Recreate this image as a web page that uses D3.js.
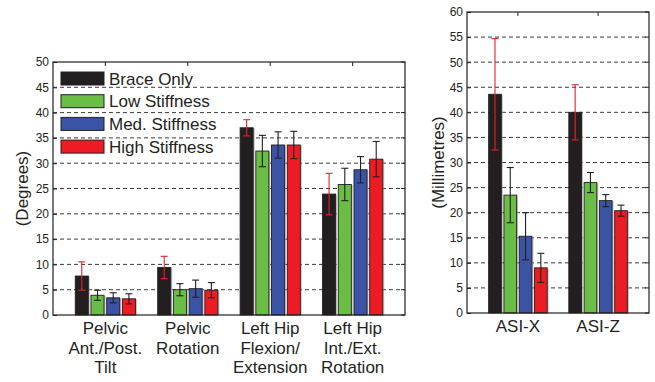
<!DOCTYPE html>
<html>
<head>
<meta charset="utf-8">
<script src="https://cdn.jsdelivr.net/npm/d3@7"></script>
<style>
  body { margin: 0; background: #fff; }
  svg { display: block; font-family: "Liberation Sans", Arial, sans-serif; }
</style>
</head>
<body>
<div id="chart"></div>
<script>
// series names + colours
const seriesNames = ['Brace Only', 'Low Stiffness', 'Med. Stiffness', 'High Stiffness'];
const seriesColours = ['#231f20', '#6abd45', '#3a53a4', '#ed1c24'];

// joint angles (degrees)
const angleCats = [['Pelvic', 'Ant./Post.', 'Tilt'], ['Pelvic', 'Rotation'], ['Left Hip', 'Flexion/', 'Extension'], ['Left Hip', 'Int./Ext.', 'Rotation']];
const braceAngle = [7.7, 9.4, 37.0, 23.9];
const lowAngle = [3.9, 5.0, 32.4, 25.8];
const medAngle = [3.4, 5.2, 33.6, 28.7];
const highAngle = [3.2, 4.9, 33.6, 30.8];
const braceAngleErr = [2.8, 2.2, 1.6, 4.1];
const lowAngleErr = [1.0, 1.2, 3.1, 3.2];
const medAngleErr = [1.0, 1.7, 2.6, 2.6];
const highAngleErr = [1.0, 1.5, 2.7, 3.5];
const angleTicks = [0, 5, 10, 15, 20, 25, 30, 35, 40, 45, 50];

// ASI displacement (mm)
const asiCats = [['ASI-X'], ['ASI-Z']];
const braceAsi = [43.6, 40.0];
const lowAsi = [23.5, 26.0];
const medAsi = [15.3, 22.4];
const highAsi = [9.0, 20.4];
const braceAsiErr = [11.1, 5.5];
const lowAsiErr = [5.5, 2.0];
const medAsiErr = [4.7, 1.2];
const highAsiErr = [2.9, 1.1];
const asiTicks = [0, 5, 10, 15, 20, 25, 30, 35, 40, 45, 50, 55, 60];

const ink = '#231f20';

const svg = d3.select('#chart')
              .append('svg')
                .attr('width', 655)
                .attr('height', 382);

function drawPanel(opts) {
    const { x0, y0, w, h, cats, means, errs, ticks, yLabel, labelX } = opts;
    const g = svg.append('g').attr('transform', `translate(${x0}, ${y0})`);

    const yScale = d3.scaleLinear()
                     .domain([0, d3.max(ticks)])
                     .range([h, 0]);
    const xScale = d3.scaleBand()
                     .domain(d3.range(cats.length))
                     .range([0, w])
                     .padding(0.27);
    const xInner = d3.scaleBand()
                     .domain(d3.range(seriesNames.length))
                     .range([0, xScale.bandwidth()])
                     .paddingInner(0.17);

    // dashed grid
    g.selectAll('.grid')
     .data(ticks.filter(t => t > 0 && t < d3.max(ticks)))
     .enter()
       .append('line')
         .attr('x1', 0)
         .attr('x2', w)
         .attr('y1', d => yScale(d))
         .attr('y2', d => yScale(d))
         .attr('stroke', '#3a3a3a')
         .attr('stroke-width', 1)
         .attr('stroke-dasharray', '4,3');

    // left axis with inside ticks, plus right side ticks
    const yAxis = g.append('g')
                   .call(d3.axisLeft(yScale).tickValues(ticks).tickSize(-4).tickPadding(4));
    yAxis.select('.domain').remove();
    yAxis.selectAll('line').attr('stroke', ink);
    yAxis.selectAll('text')
         .attr('font-size', 12)
         .attr('fill', ink)
         .attr('font-family', '"Liberation Sans", Arial, sans-serif');

    g.selectAll('.rtick')
     .data(ticks)
     .enter()
       .append('line')
         .attr('x1', w - 4)
         .attr('x2', w)
         .attr('y1', d => yScale(d))
         .attr('y2', d => yScale(d))
         .attr('stroke', ink);

    // top ticks at category centres
    g.selectAll('.ttick')
     .data(cats)
     .enter()
       .append('line')
         .attr('x1', (d, i) => xScale(i) + xScale.bandwidth() / 2)
         .attr('x2', (d, i) => xScale(i) + xScale.bandwidth() / 2)
         .attr('y1', 0)
         .attr('y2', 4)
         .attr('stroke', ink);

    // bars
    const bars = [];
    cats.forEach((c, i) => {
        seriesNames.forEach((s, j) => {
            bars.push({ cat: i, s: j, v: means[j][i], e: errs[j][i] });
        });
    });

    const barG = g.selectAll('.bar')
                  .data(bars)
                  .enter()
                    .append('g');

    // soft grey shadow
    barG.append('rect')
        .attr('x', d => xScale(d.cat) + xInner(d.s) + 1.5)
        .attr('y', d => yScale(d.v) + 0.5)
        .attr('width', xInner.bandwidth())
        .attr('height', d => h - yScale(d.v) - 0.5)
        .attr('fill', '#9a9a9a')
        .attr('opacity', 0.6);

    barG.append('rect')
        .attr('x', d => xScale(d.cat) + xInner(d.s))
        .attr('y', d => yScale(d.v))
        .attr('width', xInner.bandwidth())
        .attr('height', d => h - yScale(d.v))
        .attr('fill', d => seriesColours[d.s])
        .attr('stroke', ink)
        .attr('stroke-width', 0.9);

    // error bars (red on the black bars)
    const errColour = d => d.s === 0 ? '#e4222a' : ink;
    const cx = d => xScale(d.cat) + xInner(d.s) + xInner.bandwidth() / 2;
    barG.append('line')
        .attr('x1', cx).attr('x2', cx)
        .attr('y1', d => yScale(d.v + d.e))
        .attr('y2', d => yScale(d.v - d.e))
        .attr('stroke', errColour)
        .attr('stroke-width', 1.1);
    [1, -1].forEach(sign => {
        barG.append('line')
            .attr('x1', d => cx(d) - 3.5)
            .attr('x2', d => cx(d) + 3.5)
            .attr('y1', d => yScale(d.v + sign * d.e))
            .attr('y2', d => yScale(d.v + sign * d.e))
            .attr('stroke', errColour)
            .attr('stroke-width', 1.1);
    });

    // frame
    g.append('rect')
     .attr('x', 0)
     .attr('y', 0)
     .attr('width', w)
     .attr('height', h)
     .attr('fill', 'none')
     .attr('stroke', ink)
     .attr('stroke-width', 1.2);

    // category labels
    const labs = g.selectAll('.cat')
                  .data(cats)
                  .enter()
                    .append('text')
                      .attr('text-anchor', 'middle')
                      .attr('font-size', 17)
                      .attr('fill', ink);
    labs.selectAll('tspan')
        .data((d, i) => d.map(line => ({ line: line, i: i })))
        .enter()
          .append('tspan')
            .attr('x', d => xScale(d.i) + xScale.bandwidth() / 2)
            .attr('y', (d, k) => h + 19 + k * 19.5)
            .text(d => d.line);

    // y label
    svg.append('text')
       .attr('transform', `translate(${labelX}, ${y0 + h / 2}) rotate(-90)`)
       .attr('text-anchor', 'middle')
       .attr('font-size', 17)
       .attr('fill', ink)
       .text(yLabel);

    return g;
}

const leftG = drawPanel({
    x0: 53, y0: 62, w: 352, h: 253,
    cats: angleCats,
    means: [braceAngle, lowAngle, medAngle, highAngle],
    errs: [braceAngleErr, lowAngleErr, medAngleErr, highAngleErr],
    ticks: angleTicks,
    yLabel: '(Degrees)',
    labelX: 28
});

drawPanel({
    x0: 467, y0: 12, w: 182, h: 301,
    cats: asiCats,
    means: [braceAsi, lowAsi, medAsi, highAsi],
    errs: [braceAsiErr, lowAsiErr, medAsiErr, highAsiErr],
    ticks: asiTicks,
    yLabel: '(Millimetres)',
    labelX: 444
});

// legend (no box, sits over the grid)
const legend = leftG.append('g').attr('transform', 'translate(8, 10)');
seriesNames.forEach((name, i) => {
    const row = legend.append('g').attr('transform', `translate(0, ${i * 22.7})`);
    row.append('rect')
       .attr('width', 43)
       .attr('height', 13)
       .attr('fill', seriesColours[i])
       .attr('stroke', ink)
       .attr('stroke-width', 1);
    row.append('text')
       .attr('x', 48)
       .attr('y', 12.5)
       .attr('font-size', 17)
       .attr('fill', ink)
       .text(name);
});
</script>
</body>
</html>
